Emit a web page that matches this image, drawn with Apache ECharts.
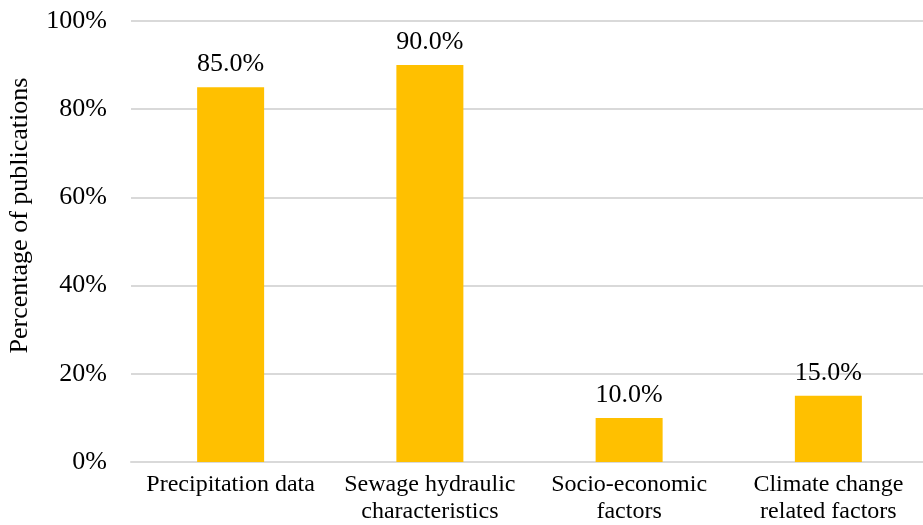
<!DOCTYPE html>
<html>
<head>
<meta charset="utf-8">
<script src="https://cdn.jsdelivr.net/npm/echarts@6/dist/echarts.min.js"></script>
<style>
  html, body { margin: 0; padding: 0; background: #fff; }
  #chart { width: 923px; height: 525px; }
</style>
</head>
<body>
<div id="chart"></div>
<script>
// Share of publications using each type of input data
const categories = [
  'Precipitation data',
  'Sewage hydraulic\ncharacteristics',
  'Socio-economic\nfactors',
  'Climate change\nrelated factors'
];
const percentages = [85.0, 90.0, 10.0, 15.0];
const yTicks = [0, 20, 40, 60, 80, 100];

const FONT = '"Liberation Serif", "Times New Roman", serif';

const chart = echarts.init(document.getElementById('chart'), null, { renderer: 'canvas' });
chart.setOption({
  animation: false,
  backgroundColor: '#ffffff',
  grid: {
    left: 131, right: -5, top: 21, bottom: 63,
    containLabel: false, outerBoundsMode: 'none'
  },
  xAxis: {
    type: 'category',
    data: categories,
    axisLine: { show: true, lineStyle: { color: '#d9d9d9', width: 2 } },
    axisTick: { show: false },
    axisLabel: {
      color: '#000', fontFamily: FONT, fontSize: 24, lineHeight: 27,
      margin: 9, interval: 0
    }
  },
  yAxis: {
    type: 'value',
    min: yTicks[0],
    max: yTicks[yTicks.length - 1],
    interval: 20,
    name: 'Percentage of publications',
    nameLocation: 'middle',
    nameGap: 98,
    nameTextStyle: {
      color: '#000', fontFamily: FONT, fontSize: 26,
      padding: [0, 0, 0, 52]
    },
    axisLine: { show: false },
    axisTick: { show: false },
    axisLabel: {
      color: '#000', fontFamily: FONT, fontSize: 26, margin: 24,
      formatter: v => v + '%'
    },
    splitLine: { lineStyle: { color: '#d9d9d9', width: 2 } }
  },
  series: [{
    type: 'bar',
    data: percentages,
    barWidth: 67,
    itemStyle: { color: '#ffc000' },
    label: {
      show: true,
      position: 'top',
      distance: 10,
      color: '#000',
      fontFamily: FONT,
      fontSize: 26,
      formatter: p => p.value.toFixed(1) + '%'
    }
  }]
});
</script>
</body>
</html>
